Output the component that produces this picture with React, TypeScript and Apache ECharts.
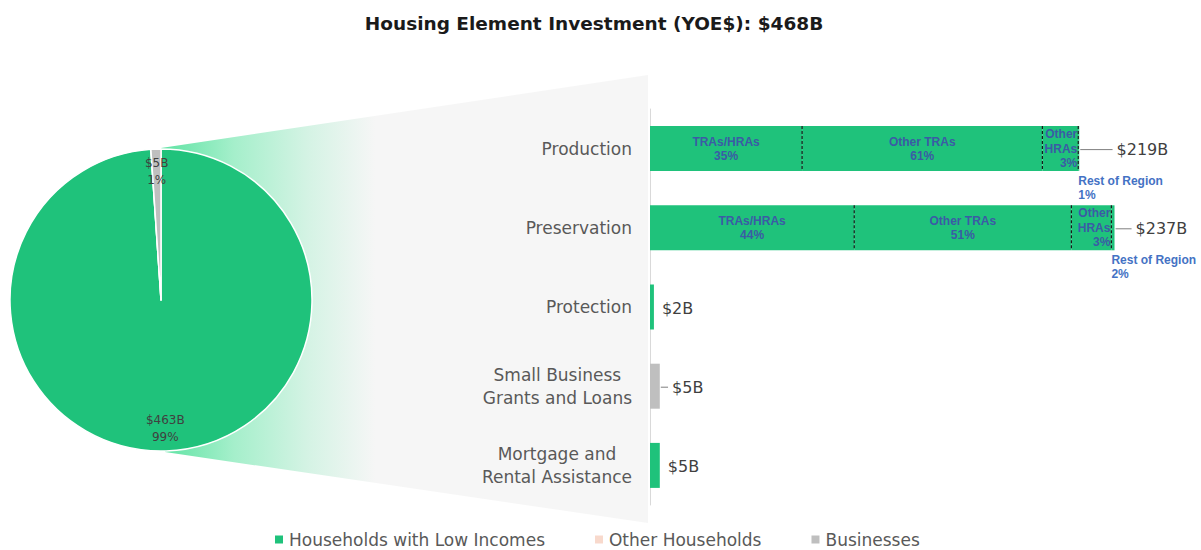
import React, { useEffect, useRef } from "react";
import * as echarts from "echarts";

// ---------- data ----------
const TITLE = "Housing Element Investment (YOE$): $468B";
const CATEGORIES = [
  "Production",
  "Preservation",
  "Protection",
  "Small Business\nGrants and Loans",
  "Mortgage and\nRental Assistance",
];
const SEGMENT_NAMES = ["TRAs/HRAs", "Other TRAs", "Other HRAs", "Rest of Region"];
// segment widths ($B) as drawn in the picture
const PRODUCTION_SEGMENTS = [77.6, 122.6, 18.3, 0.5];
const PRESERVATION_SEGMENTS = [104.2, 110.8, 20.4, 1.6];
// labelled shares (%)
const PRODUCTION_SHARES = [35, 61, 3, 1];
const PRESERVATION_SHARES = [44, 51, 3, 2];
const LOW_INCOME_OTHER = [null, null, 2, null, 5];
const BUSINESS_VALUES = [null, null, null, 5, null];
const TOTALS = [219, 237, 2, 5, 5];
const LEADER_LENGTHS = [17, 8.7, 0, 4.2, 0];
const PIE_NAMES = ["Households with Low Incomes", "Other Households", "Businesses"];
const PIE_VALUES = [463, 0, 5];

// ---------- style ----------
const GREEN = "#1fc27b";
const PEACH = "#f8d9cc";
const GRAY = "#bfbfbf";
const FONT = "DejaVu Sans";
const SMALL_FONT = "Liberation Sans";
const BAR_W = 45;
const PIE_CENTER = [161, 300];
const PIE_R = 151;

export default function App() {
  const ref = useRef<HTMLDivElement>(null);

  useEffect(() => {
    document.body.style.margin = "0";
    const chart = echarts.init(ref.current!, null, { renderer: "svg" });

    const shares = [PRODUCTION_SHARES, PRESERVATION_SHARES];
    const segRows = [PRODUCTION_SEGMENTS, PRESERVATION_SEGMENTS];

    const segmentSeries = SEGMENT_NAMES.map((name, i) => {
      let label: any;
      if (i < 2) {
        label = {
          show: true,
          position: "inside",
          formatter: (p: any) => `${name}\n${shares[p.dataIndex][i]}%`,
          color: "#3b5ba5",
          fontFamily: SMALL_FONT,
          fontWeight: "bold",
          fontSize: 12,
          lineHeight: 14,
        };
      } else if (i === 2) {
        label = {
          show: true,
          position: "insideRight",
          distance: 1,
          align: "right",
          formatter: (p: any) => `${name.split(" ").join("\n")}\n${shares[p.dataIndex][i]}%`,
          color: "#3b5ba5",
          fontFamily: SMALL_FONT,
          fontWeight: "bold",
          fontSize: 12,
          lineHeight: 14.5,
        };
      } else {
        label = {
          show: true,
          position: [0, "100%"],
          offset: [0, 3],
          align: "left",
          verticalAlign: "top",
          formatter: (p: any) => `${name}\n${shares[p.dataIndex][i]}%`,
          color: "#4472c4",
          fontFamily: SMALL_FONT,
          fontWeight: "bold",
          fontSize: 12,
          lineHeight: 14,
        };
      }
      return {
        type: "bar",
        name,
        stack: "total",
        barWidth: BAR_W,
        itemStyle: { color: GREEN },
        label,
        data: [PRODUCTION_SEGMENTS[i], PRESERVATION_SEGMENTS[i], "-", "-", "-"],
        z: 3,
      };
    });

    const boundaries: number[][] = [];
    segRows.forEach((row, r) => {
      let cum = 0;
      for (let k = 0; k < row.length - 1; k++) {
        cum += row[k];
        boundaries.push([cum, r]);
      }
    });

    const option: any = {
      animation: false,
      backgroundColor: "#ffffff",
      textStyle: { fontFamily: FONT },
      graphic: [
        {
          type: "polygon",
          z: -10,
          silent: true,
          shape: {
            points: [
              [161, 148],
              [648, 75],
              [648, 523],
              [165, 452],
            ],
          },
          style: {
            fill: new echarts.graphic.LinearGradient(
              161,
              0,
              648,
              0,
              [
                { offset: 0, color: "#5ee3a3" },
                { offset: 0.15, color: "#a5efcb" },
                { offset: 0.3, color: "#d4f3e4" },
                { offset: 0.44, color: "#f6f6f6" },
                { offset: 1, color: "#f6f6f6" },
              ],
              true
            ),
          },
        },
        {
          type: "text",
          x: 594,
          y: 23,
          style: {
            text: TITLE,
            align: "center",
            verticalAlign: "middle",
            fill: "#1a1a1a",
            fontFamily: FONT,
            fontWeight: "bold",
            fontSize: 18.5,
          },
        },
      ],
      legend: {
        data: PIE_NAMES,
        left: 268,
        top: 526,
        icon: "rect",
        itemWidth: 10,
        itemHeight: 10,
        itemGap: 48,
        textStyle: { fontFamily: FONT, fontSize: 17, color: "#595959" },
      },
      grid: { left: 650, top: 109, width: 539, height: 396, containLabel: false },
      xAxis: { type: "value", min: 0, max: 275, show: false },
      yAxis: {
        type: "category",
        inverse: true,
        data: CATEGORIES,
        axisLine: { show: true, lineStyle: { color: "#d9d9d9", width: 1 } },
        axisTick: { show: false },
        splitLine: { show: false },
        axisLabel: {
          margin: 18,
          formatter: (v: string) =>
            v
              .split("\n")
              .map((l) => `{c|${l}}`)
              .join("\n"),
          rich: {
            c: {
              align: "center",
              fontFamily: FONT,
              fontSize: 17,
              color: "#595959",
              lineHeight: 23,
            },
          },
        },
      },
      series: [
        {
          type: "pie",
          name: "Housing",
          center: PIE_CENTER,
          radius: [0, PIE_R],
          startAngle: 90,
          clockwise: true,
          z: 2,
          itemStyle: { borderColor: "#ffffff", borderWidth: 1.5 },
          label: { show: false },
          labelLine: { show: false },
          emphasis: { disabled: true },
          data: PIE_NAMES.map((n, i) => ({
            name: n,
            value: PIE_VALUES[i],
            itemStyle: { color: [GREEN, PEACH, GRAY][i] },
          })),
        },
        {
          type: "pie",
          name: "HousingLabels",
          center: PIE_CENTER,
          radius: [100, PIE_R],
          startAngle: 90,
          clockwise: true,
          silent: true,
          z: 3,
          itemStyle: { color: "transparent", borderWidth: 0 },
          labelLine: { show: false },
          label: {
            show: true,
            position: "inside",
            formatter: (p: any) => `$${p.value}B\n${Math.round(p.percent)}%`,
            color: "#404040",
            fontFamily: FONT,
            fontSize: 12,
            lineHeight: 17,
          },
          data: PIE_NAMES.map((n, i) => ({
            name: n,
            value: PIE_VALUES[i],
            label: PIE_VALUES[i] === 0 ? { show: false } : undefined,
            itemStyle: { color: "transparent" },
          })),
        },
        ...segmentSeries,
        {
          type: "bar",
          name: "Low-income programs",
          stack: "total",
          barWidth: BAR_W,
          itemStyle: { color: GREEN },
          data: LOW_INCOME_OTHER.map((v) => (v == null ? "-" : v)),
        },
        {
          type: "bar",
          name: "Business programs",
          stack: "total",
          barWidth: BAR_W,
          itemStyle: { color: GRAY },
          data: BUSINESS_VALUES.map((v) => (v == null ? "-" : v)),
        },
        {
          type: "custom",
          name: "dividers",
          coordinateSystem: "cartesian2d",
          encode: { x: 0, y: 1 },
          z: 5,
          silent: true,
          renderItem: (_p: any, api: any) => {
            const pt = api.coord([api.value(0), api.value(1)]);
            return {
              type: "line",
              shape: { x1: pt[0], y1: pt[1] - BAR_W / 2, x2: pt[0], y2: pt[1] + BAR_W / 2 },
              style: { stroke: "#1a1a1a", lineWidth: 1.2, lineDash: [3, 2] },
            };
          },
          data: boundaries,
        },
        {
          type: "custom",
          name: "totals",
          coordinateSystem: "cartesian2d",
          encode: { x: 0, y: 1 },
          z: 5,
          silent: true,
          renderItem: (_p: any, api: any) => {
            const t = api.value(0);
            const c = api.value(1);
            const len = api.value(2);
            const p0 = api.coord([t, c]);
            const p1 = api.coord([t + len, c]);
            const children: any[] = [];
            if (len > 0) {
              children.push({
                type: "line",
                shape: { x1: p0[0] + 1, y1: p0[1] + 1, x2: p1[0], y2: p0[1] + 1 },
                style: { stroke: "#7f7f7f", lineWidth: 1 },
              });
            }
            children.push({
              type: "text",
              x: p1[0] + (len > 0 ? 4 : 8),
              y: p0[1] + 1,
              style: {
                text: `$${t}B`,
                fill: "#404040",
                fontFamily: FONT,
                fontSize: 16,
                align: "left",
                verticalAlign: "middle",
              },
            });
            return { type: "group", children };
          },
          data: TOTALS.map((t, i) => [t, i, LEADER_LENGTHS[i]]),
        },
      ],
    };

    chart.setOption(option);
    return () => chart.dispose();
  }, []);

  return <div ref={ref} style={{ width: 1201, height: 550 }} />;
}
